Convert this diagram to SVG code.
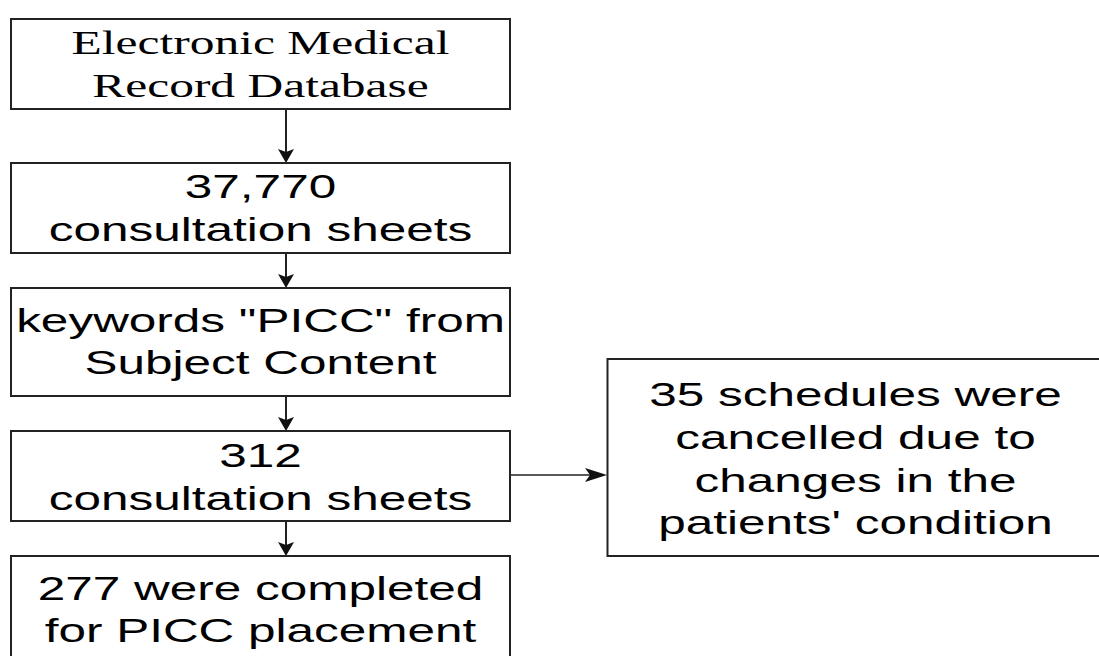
<svg xmlns="http://www.w3.org/2000/svg" width="1099" height="656" viewBox="0 0 1099 656">
<style>
.box{fill:#fff;stroke:#222;stroke-width:2}
.t{font-family:"Liberation Sans",Arial,sans-serif;font-size:33px;fill:#000;text-anchor:middle}
.s{font-family:"Liberation Serif","Times New Roman",serif;font-size:33px;fill:#000;text-anchor:middle}
.ln{stroke:#222;stroke-width:2;fill:none}
.ah{fill:#111;stroke:none}
</style>
<rect width="1099" height="656" fill="#fff"/>
<g id="connectors">
<line class="ln" x1="286" y1="109" x2="286" y2="152"/>
<polygon class="ah" points="286,163 278,149 286,152 294,149"/>
<line class="ln" x1="286" y1="253" x2="286" y2="278"/>
<polygon class="ah" points="286,288 278,274 286,277 294,274"/>
<line class="ln" x1="286" y1="396" x2="286" y2="421"/>
<polygon class="ah" points="286,431 278,417 286,420 294,417"/>
<line class="ln" x1="286" y1="521" x2="286" y2="546"/>
<polygon class="ah" points="286,556 278,542 286,545 294,542"/>
<line class="ln" x1="510" y1="475" x2="594" y2="475" style="stroke-width:1.5"/>
<polygon class="ah" points="607,475 585,468 590,475 585,482"/>
</g>
<g id="n1">
<rect class="box" x="11" y="19" width="499" height="90"/>
<text class="s" transform="translate(260.5,53.5) scale(1.5,1)">Electronic Medical</text>
<text class="s" transform="translate(260.5,97) scale(1.5,1)">Record Database</text>
</g>
<g id="n2">
<rect class="box" x="11" y="163" width="499" height="90"/>
<text class="t" transform="translate(260.5,198) scale(1.5,1)">37,770</text>
<text class="t" transform="translate(260.5,240.5) scale(1.5,1)">consultation sheets</text>
</g>
<g id="n3">
<rect class="box" x="11" y="288" width="499" height="108"/>
<text class="t" transform="translate(260.5,331.5) scale(1.5,1)">keywords "PICC" from</text>
<text class="t" transform="translate(260.5,373.5) scale(1.5,1)">Subject Content</text>
</g>
<g id="n4">
<rect class="box" x="11" y="431" width="499" height="90"/>
<text class="t" transform="translate(260.5,467) scale(1.5,1)">312</text>
<text class="t" transform="translate(260.5,509.5) scale(1.5,1)">consultation sheets</text>
</g>
<g id="n5">
<rect class="box" x="11" y="556" width="499" height="110"/>
<text class="t" transform="translate(260.5,600) scale(1.5,1)">277 were completed</text>
<text class="t" transform="translate(260.5,641.5) scale(1.5,1)">for PICC placement</text>
</g>
<g id="n6">
<rect class="box" x="607.5" y="359" width="496" height="197"/>
<text class="t" transform="translate(855.5,406) scale(1.5,1)">35 schedules were</text>
<text class="t" transform="translate(855.5,448.5) scale(1.5,1)">cancelled due to</text>
<text class="t" transform="translate(855.5,491.5) scale(1.5,1)">changes in the</text>
<text class="t" transform="translate(855.5,533.5) scale(1.5,1)">patients' condition</text>
</g>
</svg>
